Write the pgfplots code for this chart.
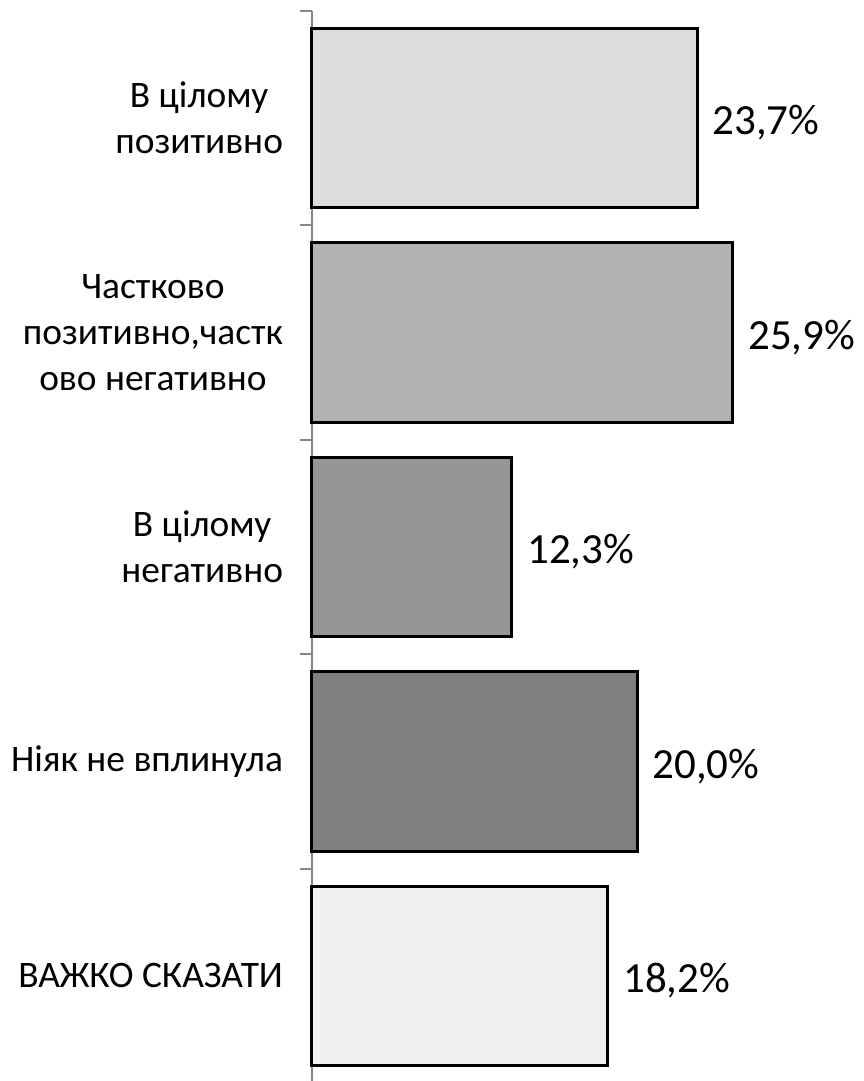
\documentclass[border=0pt]{standalone}
\usepackage{pgfplots}
\pgfplotsset{compat=1.18}
\usepackage{fontspec}
\setmainfont{Carlito}
\definecolor{axgray}{HTML}{868686}
\definecolor{cA}{HTML}{DDDDDD}
\definecolor{cB}{HTML}{B2B2B2}
\definecolor{cC}{HTML}{969696}
\definecolor{cD}{HTML}{808080}
\definecolor{cE}{HTML}{F0F0F0}
\newcommand{\catfont}{\fontsize{18.7pt}{23pt}\selectfont}
\newcommand{\valfont}{\fontsize{21.5pt}{25pt}\selectfont}
\begin{document}
\begin{tikzpicture}
\begin{axis}[
  scale only axis,
  width=243.75pt,
  height=536.25pt,
  xmin=0, xmax=30,
  ymin=-0.5, ymax=4.5,
  y dir=reverse,
  axis x line=none,
  axis y line*=left,
  y axis line style={draw=axgray, line width=1pt, -},
  ytick={0,1,2,3,4},
  yticklabels={{В цілому\\позитивно},{Частково\\позитивно,частк\\ово негативно},{В цілому\\негативно},{Ніяк не вплинула},{ВАЖКО СКАЗАТИ}},
  major tick length=0pt,
  minor ytick={-0.5,0.5,1.5,2.5,3.5,4.5},
  minor tick length=6pt,
  tick align=outside,
  tick style={draw=axgray, line width=1pt},
  yticklabel style={align=center, font=\catfont, xshift=-11pt},
  xbar, bar shift=0pt, bar width=0.835,
  /pgf/number format/assume math mode=true,
  nodes near coords={\pgfmathprintnumber[fixed,fixed zerofill,precision=1,use comma,assume math mode=true]{\pgfplotspointmeta}\%},
  nodes near coords style={font=\valfont, anchor=west, inner sep=0pt, xshift=7pt, yshift=-2.5pt},
  clip=false,
]
\addplot[fill=cA, draw=black, line width=1.5pt] coordinates {(23.7,0)};
\addplot[fill=cB, draw=black, line width=1.5pt] coordinates {(25.9,1)};
\addplot[fill=cC, draw=black, line width=1.5pt] coordinates {(12.3,2)};
\addplot[fill=cD, draw=black, line width=1.5pt] coordinates {(20.0,3)};
\addplot[fill=cE, draw=black, line width=1.5pt] coordinates {(18.2,4)};
\coordinate (tl) at (axis cs:0,-0.5);
\end{axis}
\pgfresetboundingbox
\path[use as bounding box] ([xshift=-156pt,yshift=5.35pt]tl) rectangle ([xshift=275.5pt,yshift=-535.15pt]tl);
\end{tikzpicture}
\end{document}
